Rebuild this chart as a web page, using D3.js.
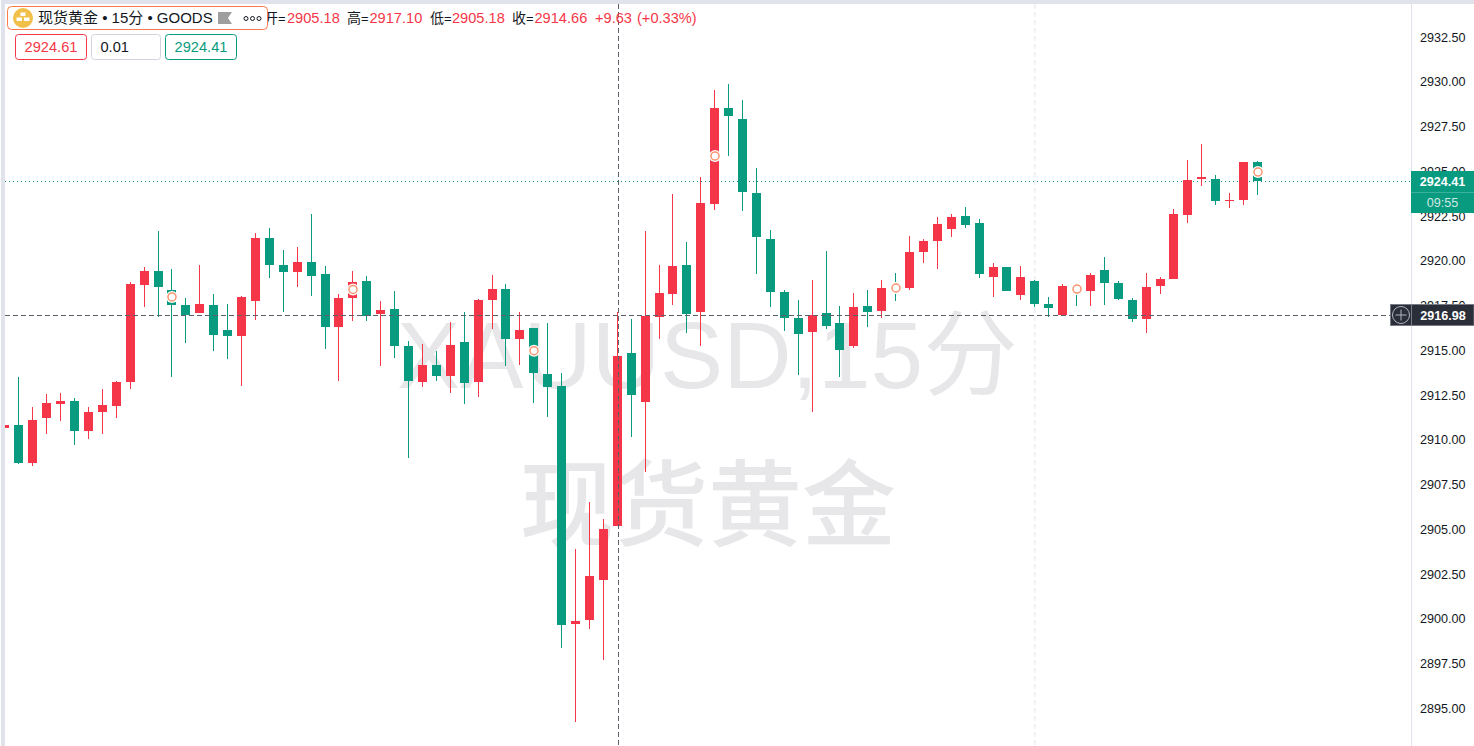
<!DOCTYPE html>
<html>
<head>
<meta charset="utf-8">
<title>现货黄金</title>
<script src="https://cdn.jsdelivr.net/npm/d3@7"></script>
<style>
  html, body { margin: 0; padding: 0; background: #fff; overflow: hidden; }
  svg { display: block; }
  text { font-family: "Liberation Sans", "Noto Sans CJK SC", sans-serif; }
</style>
</head>
<body>
<svg></svg>
<script>
// OHLC of the 15 minute bars
const openPrices = [
  2910.63, 2910.80, 2908.67, 2911.19, 2911.97, 2912.14, 2910.46, 2911.52, 2911.86, 2913.20,
  2918.62, 2919.40, 2918.34, 2917.50, 2917.05, 2917.50, 2916.11, 2915.77, 2917.73, 2921.24,
  2919.74, 2919.35, 2919.90, 2919.23, 2916.27, 2917.89, 2918.84, 2917.00, 2917.28, 2915.21,
  2913.20, 2914.15, 2913.54, 2915.43, 2913.20, 2917.78, 2918.40, 2915.60, 2916.22, 2913.65,
  2912.98, 2899.68, 2899.90, 2902.14, 2905.18, 2914.82, 2912.08, 2916.83, 2918.11, 2919.74,
  2917.11, 2923.14, 2928.51, 2927.89, 2923.76, 2921.19, 2918.23, 2916.77, 2915.99, 2917.05,
  2916.50, 2915.21, 2917.45, 2917.17, 2918.62, 2918.45, 2920.46, 2921.08, 2921.75, 2922.47,
  2922.08, 2919.07, 2919.62, 2918.06, 2918.84, 2917.56, 2916.94, 2918.56, 2918.28, 2919.46,
  2918.73, 2917.78, 2916.72, 2918.56, 2918.95, 2922.53, 2924.54, 2924.54, 2923.31, 2923.37,
  2925.49
];
const highPrices = [
  2910.80, 2913.48, 2911.80, 2912.53, 2912.59, 2912.31, 2911.80, 2912.81, 2913.26, 2918.79,
  2919.62, 2921.64, 2919.51, 2917.89, 2919.74, 2918.12, 2917.56, 2918.00, 2921.52, 2921.80,
  2920.57, 2920.74, 2922.59, 2919.68, 2918.12, 2919.40, 2919.12, 2917.73, 2918.28, 2915.49,
  2915.32, 2914.93, 2916.55, 2917.11, 2917.84, 2919.18, 2918.68, 2917.11, 2916.22, 2916.50,
  2913.70, 2903.87, 2906.50, 2905.55, 2917.10, 2916.72, 2921.63, 2919.74, 2923.70, 2921.02,
  2924.65, 2929.51, 2929.85, 2928.95, 2925.15, 2921.69, 2918.34, 2917.78, 2918.90, 2920.52,
  2917.45, 2918.17, 2918.34, 2918.90, 2919.29, 2921.36, 2921.19, 2922.42, 2922.59, 2922.98,
  2922.31, 2919.85, 2919.62, 2919.68, 2918.90, 2917.95, 2918.67, 2918.73, 2919.29, 2920.18,
  2918.84, 2917.89, 2919.29, 2919.07, 2922.86, 2925.60, 2926.49, 2924.76, 2923.76, 2925.49,
  2925.55
];
const lowPrices = [
  2910.63, 2908.62, 2908.51, 2910.30, 2911.02, 2909.68, 2910.02, 2910.30, 2911.19, 2912.81,
  2917.39, 2916.83, 2913.48, 2915.38, 2917.05, 2914.93, 2914.49, 2912.98, 2916.66, 2919.01,
  2917.11, 2918.51, 2918.00, 2915.04, 2913.26, 2916.61, 2916.61, 2914.09, 2914.54, 2908.95,
  2912.92, 2913.26, 2912.59, 2911.97, 2912.36, 2916.16, 2914.09, 2914.15, 2912.03, 2911.24,
  2898.34, 2894.21, 2899.40, 2897.67, 2905.18, 2910.13, 2908.17, 2915.60, 2917.50, 2915.94,
  2915.21, 2922.81, 2925.83, 2922.75, 2919.23, 2917.39, 2916.05, 2913.59, 2911.52, 2916.16,
  2913.48, 2915.10, 2916.27, 2916.77, 2917.72, 2918.34, 2919.85, 2919.51, 2921.30, 2921.80,
  2919.01, 2917.95, 2918.28, 2917.78, 2917.39, 2916.83, 2916.89, 2917.45, 2917.45, 2917.50,
  2917.78, 2916.55, 2915.94, 2918.11, 2918.95, 2922.08, 2924.15, 2923.09, 2922.92, 2923.09,
  2923.65
];
const closePrices = [
  2910.80, 2908.67, 2911.08, 2912.03, 2912.14, 2910.46, 2911.52, 2911.92, 2913.20, 2918.68,
  2919.40, 2918.51, 2917.50, 2916.94, 2917.56, 2915.83, 2915.77, 2917.95, 2921.24, 2919.74,
  2919.35, 2919.90, 2919.12, 2916.27, 2917.89, 2918.79, 2916.89, 2917.22, 2915.21, 2913.26,
  2914.15, 2913.54, 2915.27, 2913.14, 2917.78, 2918.40, 2915.60, 2916.11, 2913.70, 2912.92,
  2899.62, 2899.85, 2902.36, 2904.99, 2914.66, 2912.47, 2916.89, 2918.17, 2919.68, 2917.00,
  2923.20, 2928.51, 2928.06, 2923.81, 2921.30, 2918.23, 2916.77, 2915.88, 2916.94, 2916.33,
  2914.99, 2917.39, 2917.11, 2918.45, 2918.28, 2920.46, 2921.08, 2922.03, 2922.42, 2921.97,
  2919.23, 2919.62, 2918.28, 2919.07, 2917.56, 2917.33, 2918.56, 2918.23, 2919.18, 2918.73,
  2917.84, 2916.72, 2918.51, 2918.95, 2922.59, 2924.48, 2924.65, 2923.31, 2923.37, 2925.49,
  2924.41
];

// little event circles sitting on some bars
const markerBars = [12, 25, 38, 51, 64, 77, 90];
const markerPrices = [2917.95, 2918.37, 2914.95, 2925.83, 2918.45, 2918.39, 2924.93];

const priceTicks = [
  2895, 2897.5, 2900, 2902.5, 2905, 2907.5, 2910, 2912.5,
  2915, 2917.5, 2920, 2922.5, 2925, 2927.5, 2930, 2932.5
];

const lastPrice = 2924.41;
const crosshairPrice = 2916.93;
const crosshairLabel = "2916.98";
const crosshairBar = 44;
const sessionBar = 74;

const titleText = "现货黄金 • 15分 • GOODS";
const watermarkLines = ["XAUUSD,15分", "现货黄金"];
const quoteButtons = ["2924.61", "0.01", "2924.41"];
const ohlcLabels = ["开", "高", "低", "收"];
const ohlcValues = ["2905.18", "2917.10", "2905.18", "2914.66"];
const changeText = ["+9.63", "(+0.33%)"];
const countdown = "09:55";

const width = 1474;
const height = 746;
const red = "#f53648";
const green = "#089b80";
const border = "#e0e3eb";
const ink = "#131722";
const dash = "#5d606b";

const svg = d3.select("svg").attr("width", width).attr("height", height);

const x = d3.scaleLinear().domain([0, 90]).range([4.93, 1257.46]);
const y = d3.scaleLinear().domain([2895, 2932.5]).range([707.75, 36.5]);

const bars = openPrices.map((o, i) => ({
  i, o, h: highPrices[i], l: lowPrices[i], c: closePrices[i]
}));
const barLeft = d => Math.floor(x(d.i));
const barColor = d => d.c >= d.o ? red : green;

// watermark
const wm = svg.append("g").attr("fill", "#e7e7e9").attr("text-anchor", "middle").attr("font-size", 94.7);
wm.append("text").attr("x", 707.5).attr("y", 388).text(watermarkLines[0]);
wm.append("text").attr("x", 708).attr("y", 539).attr("font-size", 94).attr("font-weight", 500)
  .style("font-family", '"Noto Sans CJK SC", sans-serif').text(watermarkLines[1]);

// session break
svg.append("line")
  .attr("x1", x(sessionBar)).attr("x2", x(sessionBar))
  .attr("y1", 4).attr("y2", height)
  .attr("stroke", "#f0f1f5").attr("stroke-width", 2).attr("stroke-dasharray", "5 3");

// last price line
svg.append("line")
  .attr("x1", 5).attr("x2", 1411)
  .attr("y1", Math.floor(y(lastPrice)) + 0.5).attr("y2", Math.floor(y(lastPrice)) + 0.5)
  .attr("stroke", green).attr("stroke-dasharray", "1 3");

// candles
const candles = svg.append("g").attr("shape-rendering", "crispEdges");
candles.selectAll("rect.wick")
  .data(bars)
  .join("rect")
  .attr("class", "wick")
  .attr("x", barLeft)
  .attr("width", 1)
  .attr("y", d => Math.round(y(d.h)))
  .attr("height", d => Math.max(1, Math.round(y(d.l)) - Math.round(y(d.h))))
  .attr("fill", barColor);
candles.selectAll("rect.body")
  .data(bars)
  .join("rect")
  .attr("class", "body")
  .attr("x", d => barLeft(d) - 4)
  .attr("width", 9)
  .attr("y", d => Math.round(y(Math.max(d.o, d.c))))
  .attr("height", d => Math.max(1, Math.round(y(Math.min(d.o, d.c))) - Math.round(y(Math.max(d.o, d.c)))))
  .attr("fill", barColor);

// crosshair
const crossY = Math.floor(y(crosshairPrice)) + 0.5;
const crossX = Math.floor(x(crosshairBar)) + 1.5;
svg.append("line")
  .attr("x1", 5).attr("x2", 1390).attr("y1", crossY).attr("y2", crossY)
  .attr("stroke", dash).attr("stroke-dasharray", "5 3");
svg.append("line")
  .attr("x1", crossX).attr("x2", crossX).attr("y1", 4).attr("y2", height)
  .attr("stroke", dash).attr("stroke-dasharray", "5 3");

// markers: white halo, then the orange ring
const markers = svg.append("g")
  .selectAll("g")
  .data(markerBars)
  .join("g")
  .attr("transform", (d, i) => `translate(${Math.floor(x(d)) + 1},${y(markerPrices[i])})`);
markers.append("circle").attr("r", 6).attr("fill", "#fff");
markers.append("circle").attr("r", 4)
  .attr("fill", "#fff")
  .attr("stroke", "#fb9570")
  .attr("stroke-width", 1.5);

// frame
svg.append("rect").attr("x", 0).attr("y", 0).attr("width", width).attr("height", 4).attr("fill", border);
svg.append("rect").attr("x", 1).attr("y", 0).attr("width", 4).attr("height", height).attr("fill", border);
svg.append("rect").attr("x", 0).attr("y", 0).attr("width", 1).attr("height", height).attr("fill", "#fff");
svg.append("rect").attr("x", 1411).attr("y", 4).attr("width", 1).attr("height", height).attr("fill", border);

// price axis
const axis = svg.append("g")
  .attr("transform", "translate(1420,0.7)")
  .call(d3.axisRight(y).tickValues(priceTicks).tickSize(0).tickPadding(0).tickFormat(d3.format(".2f")));
axis.select(".domain").remove();
axis.selectAll("text").attr("font-size", 12.6).attr("fill", ink).style("font-family", '"Liberation Sans", sans-serif');

// last price box
svg.append("rect").attr("x", 1411).attr("y", 171).attr("width", 63).attr("height", 42).attr("fill", green);
svg.append("rect").attr("x", 1411).attr("y", 192).attr("width", 63).attr("height", 1).attr("fill", "#3bb09c");
svg.append("text").attr("x", 1442.5).attr("y", 186).attr("text-anchor", "middle")
  .attr("font-size", 12.6).attr("font-weight", "bold").attr("fill", "#fff").text(d3.format(".2f")(lastPrice));
svg.append("text").attr("x", 1442.5).attr("y", 207).attr("text-anchor", "middle")
  .attr("font-size", 12.6).attr("fill", "#cfe9e3").text(countdown);

// crosshair label
svg.append("rect").attr("x", 1390.5).attr("y", 304.5).attr("width", 83.5).attr("height", 21)
  .attr("fill", "#2a2e39").attr("stroke", "#787b86").attr("stroke-width", 1);
svg.append("line").attr("x1", 1411.5).attr("x2", 1411.5).attr("y1", 305).attr("y2", 325).attr("stroke", "#787b86");
svg.append("circle").attr("cx", 1401).attr("cy", 315).attr("r", 8.5)
  .attr("fill", "none").attr("stroke", "#b2b5be");
svg.append("path").attr("d", "M1395.5 315H1406.5M1401 309.5V320.5").attr("stroke", "#b2b5be");
svg.append("text").attr("x", 1443).attr("y", 320).attr("text-anchor", "middle")
  .attr("font-size", 12.6).attr("font-weight", "bold").attr("fill", "#fff").text(crosshairLabel);

// OHLC legend, the first label runs under the title box
const legend = svg.append("g").attr("font-size", 14.6);
const labelX = [264, 347, 430, 512];
const valueX = [287, 369.5, 452, 534.5];
ohlcLabels.forEach((t, i) => {
  legend.append("text").attr("x", labelX[i]).attr("y", 23).attr("font-size", 14).attr("fill", ink).text(t);
  legend.append("text").attr("x", labelX[i] + 14).attr("y", 23).attr("font-size", 13).attr("fill", ink).text("=");
  legend.append("text").attr("x", valueX[i]).attr("y", 23).attr("fill", red).text(ohlcValues[i]);
});
legend.append("text").attr("x", 595).attr("y", 23).attr("fill", red).text(changeText[0]);
legend.append("text").attr("x", 637).attr("y", 23).attr("fill", red).text(changeText[1]);

// title box
svg.append("rect").attr("x", 7.5).attr("y", 6.5).attr("width", 260).attr("height", 23).attr("rx", 4)
  .attr("fill", "#fff").attr("stroke", "#fb7a4b");
svg.append("circle").attr("cx", 23).attr("cy", 18).attr("r", 10).attr("fill", "#f0c04a");
svg.append("path").attr("fill", "#fff")
  .attr("d", "M20.5 12.5h5v3.5h-5zM16.5 17.5h5.5v3.5h-5.5zM24 17.5h5.5v3.5H24z");
svg.append("text").attr("x", 38).attr("y", 23).attr("font-size", 15).attr("fill", ink).text(titleText);
svg.append("path").attr("d", "M218 12H232L228 18L232 24H218Z").attr("fill", "#9e9e9e");
svg.append("g").selectAll("circle").data([246, 252.5, 259]).join("circle")
  .attr("cx", d => d).attr("cy", 18.5).attr("r", 2)
  .attr("fill", "none").attr("stroke", ink);

// quote buttons
const btnColor = [red, "#d1d4dc", green];
const btnText = [red, ink, green];
const btnX = [15.5, 91.5, 165.5];
const btnW = [71, 69, 71];
quoteButtons.forEach((t, i) => {
  svg.append("rect").attr("x", btnX[i]).attr("y", 34.5).attr("width", btnW[i]).attr("height", 25).attr("rx", 3)
    .attr("fill", "#fff").attr("stroke", btnColor[i]);
  const lbl = svg.append("text").attr("y", 52).attr("font-size", 14.6).attr("fill", btnText[i]).text(t);
  if (i === 1) lbl.attr("x", 100.5);
  else lbl.attr("x", btnX[i] + btnW[i] / 2).attr("text-anchor", "middle");
});
</script>
</body>
</html>
